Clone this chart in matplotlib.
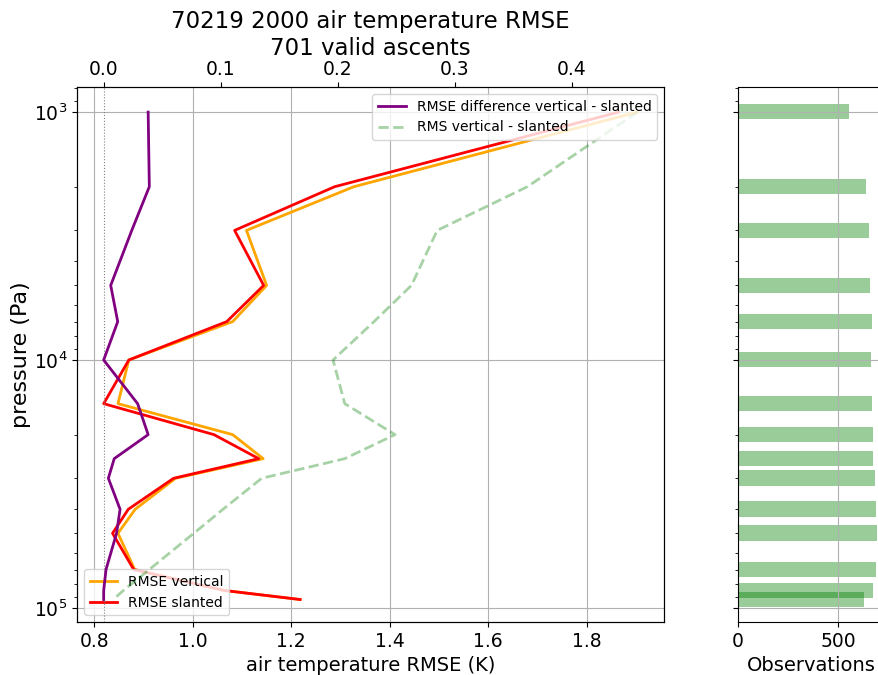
import numpy as np
import matplotlib
matplotlib.use("Agg")
import matplotlib.pyplot as plt

# Standard pressure levels (Pa)
levels = np.array([1000, 2000, 3000, 5000, 7000, 10000, 15000, 20000,
                   25000, 30000, 40000, 50000, 70000, 85000, 92500])

# Air temperature RMSE (K) for vertical and slanted profiles
rmse_vertical = np.array([1.903, 1.327, 1.109, 1.150, 1.081, 0.870, 0.848, 1.081,
                          1.143, 0.965, 0.883, 0.848, 0.882, 1.063, 1.218])
rmse_slanted = np.array([1.865, 1.288, 1.085, 1.144, 1.069, 0.870, 0.819, 1.043,
                         1.134, 0.961, 0.869, 0.837, 0.880, 1.063, 1.218])

# RMS of the vertical - slanted difference (K)
rms_difference = np.array([0.456, 0.362, 0.285, 0.263, 0.231, 0.196, 0.206, 0.249,
                           0.206, 0.135, 0.102, 0.077, 0.039, 0.017, 0.008])

# Number of observations per level
observations = np.array([553, 642, 655, 662, 670, 665, 670, 675,
                         675, 683, 692, 697, 692, 675, 630])

station = "70219"
year = "2000"
n_ascents = 701

rmse_diff = rmse_vertical - rmse_slanted

fig = plt.figure(figsize=(8.79, 6.75), dpi=100)
ax = fig.add_axes([0.0876, 0.0785, 0.6678, 0.7926])
axr = fig.add_axes([0.8396, 0.0785, 0.1666, 0.7926], sharey=ax)

ax.plot(rmse_vertical, levels, color="orange", lw=2, label="RMSE vertical")
ax.plot(rmse_slanted, levels, color="red", lw=2, label="RMSE slanted")
ax.set_yscale("log")
ax.set_ylim(1.14e5, 792)
ax.grid(True)
ax.set_xlabel("air temperature RMSE (K)", fontsize=14)
ax.set_ylabel("pressure (Pa)", fontsize=16, labelpad=2)
ax.tick_params(labelsize=13.5)
ax.legend(loc="lower left", fontsize=10)

ax2 = ax.twiny()
ax2.axvline(0, color="gray", lw=0.8, ls=":")
ax2.plot(rmse_diff, levels, color="purple", lw=2,
         label="RMSE difference vertical - slanted")
ax2.plot(rms_difference, levels, color="green", alpha=0.35, lw=2, ls="--",
         label="RMS vertical - slanted")
ax2.tick_params(labelsize=13.5, pad=2.5)
ax2.legend(loc="upper right", fontsize=10)

ax.set_title(f"{station} {year} air temperature RMSE\n{n_ascents} valid ascents",
             fontsize=16.5, pad=2)

axr.barh(levels, observations, height=0.14 * levels, color="green", alpha=0.4)
axr.grid(True)
axr.set_xlabel("Observations", fontsize=14)
axr.tick_params(labelsize=13.5)
axr.tick_params(axis="y", labelleft=False)
axr.set_xlim(0, 732)

fig.savefig("out.png", dpi=100)
